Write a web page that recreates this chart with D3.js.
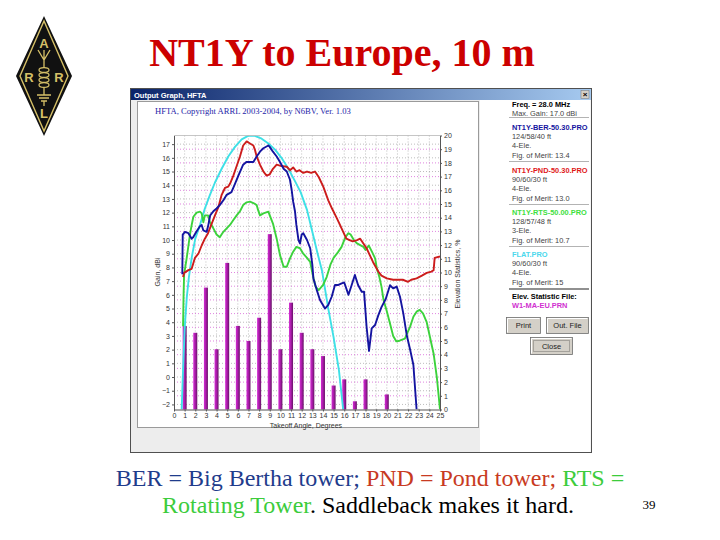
<!DOCTYPE html>
<html>
<head>
<meta charset="utf-8">
<script src="https://cdn.jsdelivr.net/npm/d3@7"></script>
<style>
  body { margin: 0; background: #fff; }
  svg { display: block; }
</style>
</head>
<body>
<svg id="chart" width="720" height="540"></svg>
<script>
// ---- data ----
// takeoff angle (deg) -> gain (dBi)
const berGain = [[0.78,7.5],[0.82,10.4],[1.03,10.6],[1.35,10.5],[1.66,10.1],[1.8,10.2],[2.1,10.6],[2.44,11.0],[2.6,11.1],[2.76,10.7],[3.07,10.6],[3.2,11.0],[3.4,11.8],[3.7,12.1],[4.0,12.3],[4.3,12.55],[4.64,12.9],[4.95,13.3],[5.4,13.5],[5.73,14.1],[6.05,14.7],[6.5,15.5],[6.8,15.7],[7.14,15.7],[7.46,15.7],[7.77,16.1],[8.08,16.45],[8.4,16.7],[8.87,16.9],[9.0,16.8],[9.3,16.45],[9.65,16.1],[9.96,15.7],[10.3,15.2],[10.6,15.0],[10.9,14.4],[11.06,13.65],[11.2,12.8],[11.37,12.1],[11.5,11.1],[11.7,10.0],[11.84,9.75],[12.0,10.4],[12.15,10.5],[12.5,10.0],[12.8,9.4],[13.0,8.2],[13.1,7.2],[13.4,6.4],[13.72,5.62],[14.19,5.0],[14.5,5.26],[14.82,5.86],[15.13,6.72],[15.45,6.72],[15.76,6.84],[16.0,6.9],[16.4,6.0],[16.7,6.72],[17.0,7.45],[17.3,6.72],[17.64,6.23],[17.86,6.23],[18.1,3.67],[18.33,1.9],[18.58,3.55],[18.9,3.8],[19.2,4.5],[19.5,5.1],[19.9,5.7],[20.3,6.7],[20.6,6.47],[20.93,6.6],[21.24,5.86],[21.55,4.65],[21.87,3.07],[22.2,1.97],[22.5,0.88],[22.8,-2.37]];
const pndGain = [[0.85,7.3],[0.95,7.6],[1.35,7.8],[1.66,7.9],[1.97,8.7],[2.29,9.0],[2.6,9.6],[2.9,10.1],[3.2,10.5],[3.5,11.1],[3.85,11.8],[4.17,12.4],[4.48,13.3],[4.79,13.8],[5.1,13.9],[5.26,14.1],[5.58,14.7],[5.89,15.4],[6.2,16.1],[6.5,16.9],[6.83,17.2],[7.14,17.05],[7.46,16.9],[7.6,16.6],[7.77,16.1],[8.08,15.5],[8.4,15.0],[8.7,14.7],[9.0,14.8],[9.3,15.2],[9.65,15.5],[10.1,15.4],[10.6,15.35],[10.9,15.1],[11.2,15.3],[11.5,15.0],[11.8,15.1],[12.15,14.9],[12.5,15.0],[12.9,14.9],[13.25,15.0],[13.6,14.6],[14.03,13.9],[14.5,12.9],[14.85,12.3],[15.3,11.6],[15.6,11.1],[15.9,10.6],[16.2,10.1],[16.5,10.0],[16.8,9.9],[17.2,10.0],[17.5,10.1],[17.8,9.75],[18.1,9.4],[18.4,8.9],[18.7,8.4],[19.2,7.7],[19.5,7.4],[20.0,7.2],[20.6,7.1],[21.5,7.1],[22.0,6.95],[22.3,7.1],[22.8,7.2],[23.3,7.4],[23.75,7.6],[24.2,7.7],[24.4,7.8],[24.5,8.7],[25,8.8]];
const rtsGain = [[0.85,3.7],[0.9,6.0],[0.95,7.5],[1.19,8.66],[1.5,10.4],[1.66,11.1],[1.82,11.7],[2.13,12.0],[2.44,12.07],[2.6,11.95],[2.76,11.3],[2.9,11.8],[3.2,11.8],[3.38,11.3],[3.7,10.85],[4.0,10.4],[4.3,10.2],[4.64,10.6],[4.95,10.85],[5.26,11.1],[5.58,11.46],[5.89,11.8],[6.2,12.1],[6.5,12.55],[6.83,12.75],[7.14,12.8],[7.46,12.7],[7.77,12.55],[7.9,12.2],[8.08,11.8],[8.4,11.95],[8.87,12.07],[9.0,11.8],[9.3,11.2],[9.65,10.1],[9.96,8.9],[10.3,8.05],[10.6,8.05],[10.9,8.66],[11.2,9.15],[11.5,9.5],[11.84,9.4],[12.15,9.0],[12.5,8.7],[12.8,8.4],[13.0,7.6],[13.3,6.6],[13.6,6.35],[14.0,6.7],[14.35,7.3],[14.7,8.2],[15.0,8.7],[15.4,9.1],[15.75,9.5],[16.1,10.2],[16.4,10.5],[16.6,10.4],[16.9,10.0],[17.2,9.75],[17.8,9.5],[18.0,9.27],[18.3,9.6],[18.6,9.15],[18.9,8.66],[19.05,8.0],[19.3,7.3],[19.5,6.6],[19.7,5.6],[20.0,4.8],[20.3,3.9],[20.6,3.0],[20.9,2.6],[21.2,2.65],[21.7,2.8],[22.2,3.7],[22.5,4.4],[22.8,4.77],[23.1,4.9],[23.4,4.65],[23.75,4.0],[24.06,2.9],[24.4,1.7],[24.7,0.0],[25,-2.37]];
const flatGain = [[0.72,-2.37],[0.85,0.5],[1.0,3.5],[1.2,5.8],[1.4,7.3],[1.66,8.7],[2.0,10.1],[2.44,11.1],[2.9,12.3],[3.38,13.3],[3.85,14.2],[4.48,15.2],[5.1,16.1],[5.73,16.8],[6.36,17.35],[7.0,17.62],[7.6,17.6],[8.24,17.4],[8.87,17.05],[9.5,16.6],[10.1,16.0],[10.75,15.2],[11.37,14.3],[11.9,13.5],[12.5,12.2],[13.0,10.6],[13.5,9.0],[13.9,7.8],[14.5,5.0],[15.0,2.9],[15.5,0.5],[15.9,-2.37]];

// elevation statistics (% of openings) per takeoff angle
const statAngles = [1, 2, 3, 4, 5, 6, 7, 8, 9, 10, 11, 12, 13, 14, 15, 16, 17, 18, 20];
const statPct = [6.1, 5.6, 8.9, 4.4, 10.7, 6.1, 5.0, 6.7, 12.8, 4.4, 7.8, 5.6, 4.4, 3.9, 1.75, 2.2, 0.6, 2.2, 1.1];

// tick labels
const angleTicks = [0,1,2,3,4,5,6,7,8,9,10,11,12,13,14,15,16,17,18,19,20,21,22,23,24,25];
const gainTicks = [-2,-1,0,1,2,3,4,5,6,7,8,9,10,11,12,13,14,15,16,17];
const pctTicks = [0,1,2,3,4,5,6,7,8,9,10,11,12,13,14,15,16,17,18,19,20];

const serif = "'Liberation Serif', 'Times New Roman', serif";
const sans = "'Liberation Sans', Arial, sans-serif";

const svg = d3.select('#chart');
const defs = svg.append('defs');

// ---- ARRL logo ----
const logo = svg.append('g');
const gold = '#d6c068';
logo.append('polygon')
  .attr('points', '44,16 72,76 44,136 16,76')
  .attr('fill', '#111');
logo.append('polygon')
  .attr('points', '44,21 68,76 44,131 20,76')
  .attr('fill', 'none').attr('stroke', gold).attr('stroke-width', 1.4);
[['A', 44, 48], ['R', 29, 82], ['R', 59, 82], ['L', 44, 118]].forEach(([t, lx, ly]) => {
  logo.append('text').attr('x', lx).attr('y', ly)
    .attr('text-anchor', 'middle')
    .style('font-family', sans)
    .style('font-size', '13px').style('font-weight', 'bold')
    .attr('fill', gold).text(t);
});
logo.append('path')
  .attr('d', 'M38,50 L44,60 L50,50 M44,50 L44,68 M44,88 L44,95 M37,95 L51,95 M39,98 L49,98 M41,101 L47,101 M44,101 L44,106')
  .attr('stroke', gold).attr('stroke-width', 1.3).attr('fill', 'none');
[70, 75, 80, 85].forEach(cy => {
  logo.append('ellipse').attr('cx', 44).attr('cy', cy).attr('rx', 5).attr('ry', 2.4)
    .attr('fill', 'none').attr('stroke', gold).attr('stroke-width', 1.2);
});

// ---- slide title ----
svg.append('text')
  .attr('x', 342).attr('y', 66)
  .attr('text-anchor', 'middle')
  .style('font-family', serif)
  .style('font-size', '40px').style('font-weight', 'bold')
  .attr('fill', '#cc0000')
  .text('NT1Y to Europe, 10 m');

// ---- program window ----
const tb = defs.append('linearGradient').attr('id', 'titlebar');
tb.append('stop').attr('offset', '0%').attr('stop-color', '#0a246a');
tb.append('stop').attr('offset', '100%').attr('stop-color', '#a6caf0');

svg.append('rect')
  .attr('x', 130.5).attr('y', 88.5).attr('width', 461).attr('height', 364)
  .attr('fill', '#ededed').attr('stroke', '#505050');
svg.append('rect')
  .attr('x', 131).attr('y', 89).attr('width', 460).attr('height', 11)
  .attr('fill', 'url(#titlebar)');
svg.append('text')
  .attr('x', 134).attr('y', 97.5)
  .style('font-family', sans)
  .style('font-size', '7.5px').style('font-weight', 'bold')
  .attr('fill', '#fff').text('Output Graph, HFTA');
svg.append('rect')
  .attr('x', 581).attr('y', 90.5).attr('width', 8).attr('height', 8)
  .attr('fill', '#d4d0c8').attr('stroke', '#777').attr('stroke-width', 0.5);
svg.append('text')
  .attr('x', 585).attr('y', 97.3).attr('text-anchor', 'middle')
  .style('font-family', sans)
  .style('font-size', '8px').style('font-weight', 'bold')
  .attr('fill', '#000').text('×');

// right panel
svg.append('rect')
  .attr('x', 480).attr('y', 100).attr('width', 110.5).attr('height', 352)
  .attr('fill', '#fff');
// plot panel
svg.append('rect')
  .attr('x', 137.5).attr('y', 101.5).attr('width', 341).attr('height', 326)
  .attr('fill', '#fff').attr('stroke', '#9a9a9a');

svg.append('text')
  .attr('x', 155).attr('y', 114)
  .style('font-family', serif)
  .style('font-size', '8.6px')
  .attr('fill', '#2424a8')
  .text('HFTA, Copyright ARRL 2003-2004, by N6BV, Ver. 1.03');

// ---- plot ----
const x = d3.scaleLinear().domain([0, 25]).range([174, 440]);
const yPct = d3.scaleLinear().domain([0, 20]).range([409.5, 135.5]);
const yGain = d3.scaleLinear().domain([-2.37, 17.63]).range([409.5, 135.5]);

const plot = svg.append('g');

// grid
plot.selectAll('.vgrid').data(angleTicks.slice(1, -1)).join('line')
  .attr('x1', d => x(d)).attr('x2', d => x(d))
  .attr('y1', yPct(20)).attr('y2', yPct(0))
  .attr('stroke', '#a0a0a0').attr('stroke-width', 0.7).attr('stroke-dasharray', '1,2');
plot.selectAll('.ggrid').data(gainTicks).join('line')
  .attr('x1', x(0)).attr('x2', x(25))
  .attr('y1', d => yGain(d)).attr('y2', d => yGain(d))
  .attr('stroke', '#a0a0a0').attr('stroke-width', 0.7).attr('stroke-dasharray', '1,2');
plot.selectAll('.pgrid').data(pctTicks.slice(1, -1)).join('line')
  .attr('x1', x(0)).attr('x2', x(25))
  .attr('y1', d => yPct(d)).attr('y2', d => yPct(d))
  .attr('stroke', '#d24fd2').attr('stroke-width', 0.7).attr('stroke-dasharray', '1,2');

// statistic bars
const bg = defs.append('linearGradient').attr('id', 'bargrad');
bg.append('stop').attr('offset', '0%').attr('stop-color', '#d42ad4');
bg.append('stop').attr('offset', '50%').attr('stop-color', '#a81ca8');
bg.append('stop').attr('offset', '100%').attr('stop-color', '#641464');

plot.selectAll('.bar').data(statAngles).join('rect')
  .attr('x', d => x(d) - 2)
  .attr('width', 4)
  .attr('y', (d, i) => yPct(statPct[i]))
  .attr('height', (d, i) => yPct(0) - yPct(statPct[i]))
  .attr('fill', 'url(#bargrad)');

// gain curves
defs.append('clipPath').attr('id', 'plotclip')
  .append('rect').attr('x', x(0)).attr('y', yPct(20))
  .attr('width', x(25) - x(0)).attr('height', yPct(0) - yPct(20));

const line = d3.line().x(d => x(d[0])).y(d => yGain(d[1]));
const curves = [
  { data: flatGain, color: '#3ee0e6' },
  { data: rtsGain, color: '#3cd23c' },
  { data: pndGain, color: '#cc1c1c' },
  { data: berGain, color: '#1414a0' }
];
const cg = plot.append('g').attr('clip-path', 'url(#plotclip)');
curves.forEach(c => {
  cg.append('path')
    .attr('d', line(c.data))
    .attr('fill', 'none')
    .attr('stroke', c.color)
    .attr('stroke-width', 1.9)
    .attr('stroke-linejoin', 'round');
});

// axes
function styleAxis(g) {
  g.selectAll('text')
    .style('font-family', sans)
    .style('font-size', '7px')
    .attr('fill', '#333');
  g.selectAll('line').attr('stroke', '#555');
  g.select('.domain').attr('stroke', '#555');
}
plot.append('g')
  .attr('transform', `translate(${x(0)},0)`)
  .call(d3.axisLeft(yGain).tickValues(gainTicks).tickSize(2).tickPadding(2).tickSizeOuter(0))
  .call(styleAxis);
plot.append('g')
  .attr('transform', `translate(${x(25)},0)`)
  .call(d3.axisRight(yPct).tickValues(pctTicks).tickSize(2).tickPadding(2).tickSizeOuter(0))
  .call(styleAxis);
plot.append('g')
  .attr('transform', `translate(0,${yPct(0)})`)
  .call(d3.axisBottom(x).tickValues(angleTicks).tickSize(2).tickPadding(2).tickSizeOuter(0))
  .call(styleAxis);
plot.append('line')
  .attr('x1', x(0)).attr('x2', x(25)).attr('y1', yPct(20)).attr('y2', yPct(20))
  .attr('stroke', '#b8b8b8').attr('stroke-width', 0.8);

plot.append('text')
  .attr('transform', 'translate(160,272) rotate(-90)')
  .attr('text-anchor', 'middle')
  .style('font-family', sans).style('font-size', '7px')
  .attr('fill', '#333').text('Gain, dBi');
plot.append('text')
  .attr('transform', 'translate(460,274) rotate(-90)')
  .attr('text-anchor', 'middle')
  .style('font-family', sans).style('font-size', '7px')
  .attr('fill', '#333').text('Elevation Statistics, %');
plot.append('text')
  .attr('x', 306).attr('y', 428)
  .attr('text-anchor', 'middle')
  .style('font-family', sans).style('font-size', '7px')
  .attr('fill', '#333').text('Takeoff Angle, Degrees');

// ---- right info panel ----
const infoLines = [
  { t: 'Freq. = 28.0 MHz', y: 104, c: '#000', b: true },
  { t: 'Max. Gain:  17.0 dBi', y: 113.5, c: '#444' },
  { t: 'NT1Y-BER-50.30.PRO', y: 127, c: '#1414a0', b: true },
  { t: '124/58/40 ft', y: 136, c: '#444' },
  { t: '4-Ele.', y: 145, c: '#444' },
  { t: 'Fig. of Merit:  13.4', y: 155, c: '#444' },
  { t: 'NT1Y-PND-50.30.PRO', y: 170, c: '#e01818', b: true },
  { t: '90/60/30 ft', y: 179, c: '#444' },
  { t: '4-Ele.', y: 188, c: '#444' },
  { t: 'Fig. of Merit:  13.0', y: 198, c: '#444' },
  { t: 'NT1Y-RTS-50.00.PRO', y: 212, c: '#3ee03e', b: true },
  { t: '128/57/48 ft', y: 221, c: '#444' },
  { t: '3-Ele.', y: 230, c: '#444' },
  { t: 'Fig. of Merit:  10.7', y: 240, c: '#444' },
  { t: 'FLAT.PRO', y: 254, c: '#4cd8ec', b: true },
  { t: '90/60/30 ft', y: 263, c: '#444' },
  { t: '4-Ele.', y: 272, c: '#444' },
  { t: 'Fig. of Merit:  15', y: 282, c: '#444' },
  { t: 'Elev. Statistic File:', y: 296, c: '#000', b: true },
  { t: 'W1-MA-EU.PRN', y: 305, c: '#d030d0', b: true }
];
svg.selectAll('.info').data(infoLines).join('text')
  .attr('x', 512).attr('y', d => d.y + 2.7)
  .style('font-family', sans)
  .style('font-size', '7.4px')
  .style('font-weight', d => d.b ? 'bold' : 'normal')
  .attr('fill', d => d.c)
  .text(d => d.t);

[117.5, 161.5, 204.5, 246.5].forEach(sy => {
  svg.append('line').attr('x1', 509).attr('x2', 589).attr('y1', sy).attr('y2', sy)
    .attr('stroke', '#a0a0a0').attr('stroke-width', 0.8);
});
svg.append('line').attr('x1', 509).attr('x2', 589).attr('y1', 289).attr('y2', 289)
  .attr('stroke', '#222').attr('stroke-width', 1.2);

function button(bx, by, bw, bh, label, focus) {
  svg.append('rect').attr('x', bx + 0.5).attr('y', by + 0.5).attr('width', bw).attr('height', bh)
    .attr('fill', '#d4d0c8').attr('stroke', '#6e6e6e').attr('stroke-width', 0.8);
  svg.append('path')
    .attr('d', `M${bx + 1.5},${by + bh - 0.5} L${bx + 1.5},${by + 1.5} L${bx + bw - 0.5},${by + 1.5}`)
    .attr('stroke', '#fff').attr('fill', 'none');
  if (focus) {
    svg.append('rect').attr('x', bx + 3.5).attr('y', by + 3.5).attr('width', bw - 6).attr('height', bh - 6)
      .attr('fill', 'none').attr('stroke', '#333').attr('stroke-width', 0.6).attr('stroke-dasharray', '1,1');
  }
  svg.append('text').attr('x', bx + bw / 2 + 0.5).attr('y', by + bh / 2 + 3)
    .attr('text-anchor', 'middle')
    .style('font-family', sans).style('font-size', '7.5px')
    .attr('fill', '#222').text(label);
}
button(506, 317, 34, 16, 'Print');
button(546, 317, 42, 16, 'Out. File');
button(530, 337, 42, 17, 'Close', true);

// ---- caption ----
const cap = svg.append('text')
  .attr('x', 370).attr('y', 486)
  .attr('text-anchor', 'middle')
  .attr('font-family', serif)
  .attr('font-size', 24);
cap.append('tspan').attr('fill', '#1f3c8c').text('BER = Big Bertha tower; ');
cap.append('tspan').attr('fill', '#c83a22').text('PND = Pond tower; ');
cap.append('tspan').attr('fill', '#3ccc3c').text('RTS =');

const cap2 = svg.append('text')
  .attr('x', 368).attr('y', 513)
  .attr('text-anchor', 'middle')
  .attr('font-family', serif)
  .attr('font-size', 24);
cap2.append('tspan').attr('fill', '#3ccc3c').text('Rotating Tower');
cap2.append('tspan').attr('fill', '#000').text('. Saddleback makes it hard.');

svg.append('text')
  .attr('x', 649).attr('y', 509)
  .attr('text-anchor', 'middle')
  .attr('font-family', serif)
  .attr('font-size', 13)
  .attr('fill', '#000').text('39');
</script>
</body>
</html>
